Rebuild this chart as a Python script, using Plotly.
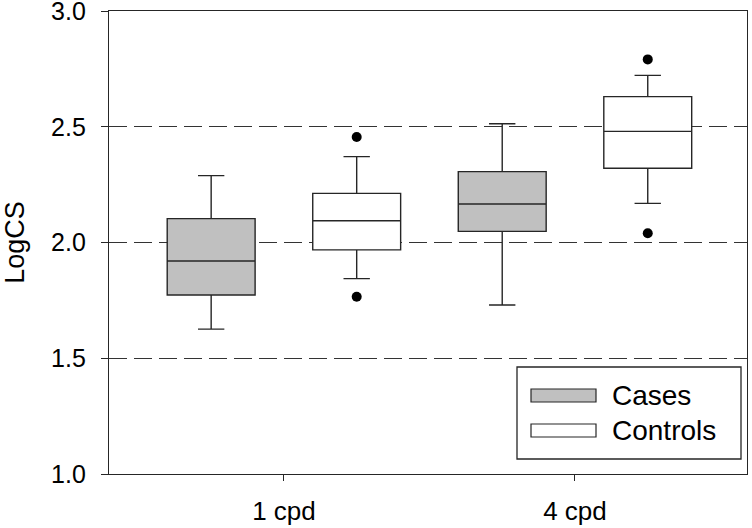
import plotly.graph_objects as go

# ---- data ----
categories = ["1 cpd", "4 cpd"]
series_names = ["Cases", "Controls"]
series_fill = ["#c0c0c0", "#ffffff"]

cases_lower = [1.626, 1.730]
cases_q1 = [1.773, 2.048]
cases_median = [1.920, 2.166]
cases_q3 = [2.103, 2.306]
cases_upper = [2.289, 2.513]
cases_outliers = [[], []]

controls_lower = [1.844, 2.169]
controls_q1 = [1.968, 2.321]
controls_median = [2.094, 2.480]
controls_q3 = [2.212, 2.630]
controls_upper = [2.371, 2.722]
controls_outliers = [[1.766, 2.456], [2.040, 2.791]]

y_ticks = [1.0, 1.5, 2.0, 2.5, 3.0]
y_ticktext = ["1.0", "1.5", "2.0", "2.5", "3.0"]

# ---- layout constants ----
FONT = "Liberation Sans, Arial, sans-serif"
LINE = "#262626"
offsets = [-0.25, 0.25]
box_width = 0.302

stats = [
    (cases_lower, cases_q1, cases_median, cases_q3, cases_upper, cases_outliers),
    (controls_lower, controls_q1, controls_median, controls_q3, controls_upper, controls_outliers),
]

fig = go.Figure()
cat_pos = list(range(len(categories)))
for s, (lo, q1, med, q3, up, outl) in enumerate(stats):
    xs = [p + offsets[s] for p in cat_pos]
    fig.add_trace(go.Box(
        x=xs, q1=q1, median=med, q3=q3, lowerfence=lo, upperfence=up,
        width=box_width, whiskerwidth=0.3,
        fillcolor=series_fill[s],
        line=dict(color=LINE, width=1.4),
        name=series_names[s], showlegend=False, boxpoints=False,
    ))
    ox, oy = [], []
    for i, vals in enumerate(outl):
        for v in vals:
            ox.append(xs[i])
            oy.append(v)
    if ox:
        fig.add_trace(go.Scatter(
            x=ox, y=oy, mode="markers",
            marker=dict(color="black", size=10),
            showlegend=False, hoverinfo="skip",
        ))

# ---- manual legend (paper coordinates) ----
fig.add_shape(type="rect", xref="paper", yref="paper",
              x0=(517 - 109) / 638, x1=(741 - 109) / 638,
              y0=(474 - 459) / 463, y1=(474 - 367) / 463,
              line=dict(color=LINE, width=1.3), fillcolor="white", layer="above")
legend_y = [395.5, 430.5]
for s, name in enumerate(series_names):
    yc = legend_y[s]
    fig.add_shape(type="rect", xref="paper", yref="paper",
                  x0=(531 - 109) / 638, x1=(596 - 109) / 638,
                  y0=(474 - (yc + 6.5)) / 463, y1=(474 - (yc - 6.5)) / 463,
                  line=dict(color=LINE, width=1.2), fillcolor=series_fill[s], layer="above")
    fig.add_annotation(xref="paper", yref="paper",
                       x=(610 - 109) / 638, y=(474 - yc) / 463,
                       text=name, showarrow=False, xanchor="left", yanchor="middle",
                       font=dict(family=FONT, size=28, color="black"))

fig.update_layout(
    width=752, height=528,
    margin=dict(l=109, r=5, t=11, b=54),
    paper_bgcolor="white", plot_bgcolor="white",
    font=dict(family=FONT, color="black"),
    showlegend=False,
)
fig.update_xaxes(
    range=[-0.601, 1.591],
    tickvals=cat_pos, ticktext=categories,
    tickfont=dict(family=FONT, size=26, color="black"),
    ticks="outside", ticklen=6, tickcolor=LINE, tickwidth=1.3,
    showline=True, linecolor=LINE, linewidth=1.3, mirror=True,
    showgrid=False, zeroline=False, ticklabelstandoff=8, automargin=False,
)
fig.update_yaxes(
    range=[1.0, 3.0],
    tickvals=y_ticks, ticktext=y_ticktext,
    tickfont=dict(family=FONT, size=25, color="black"),
    ticks="outside", ticklen=7, tickcolor=LINE, tickwidth=1.3,
    showline=True, linecolor=LINE, linewidth=1.3, mirror=True,
    showgrid=True, gridcolor="#333333", gridwidth=1.2, griddash="18px,7px",
    zeroline=False, ticklabelstandoff=10, ticklabeloverflow="allow", automargin=False,
    title=dict(text="LogCS", font=dict(family=FONT, size=27, color="black"), standoff=29),
)

fig.write_html("out.html", post_script="document.body.style.margin='0';",
               config={"displayModeBar": False})
